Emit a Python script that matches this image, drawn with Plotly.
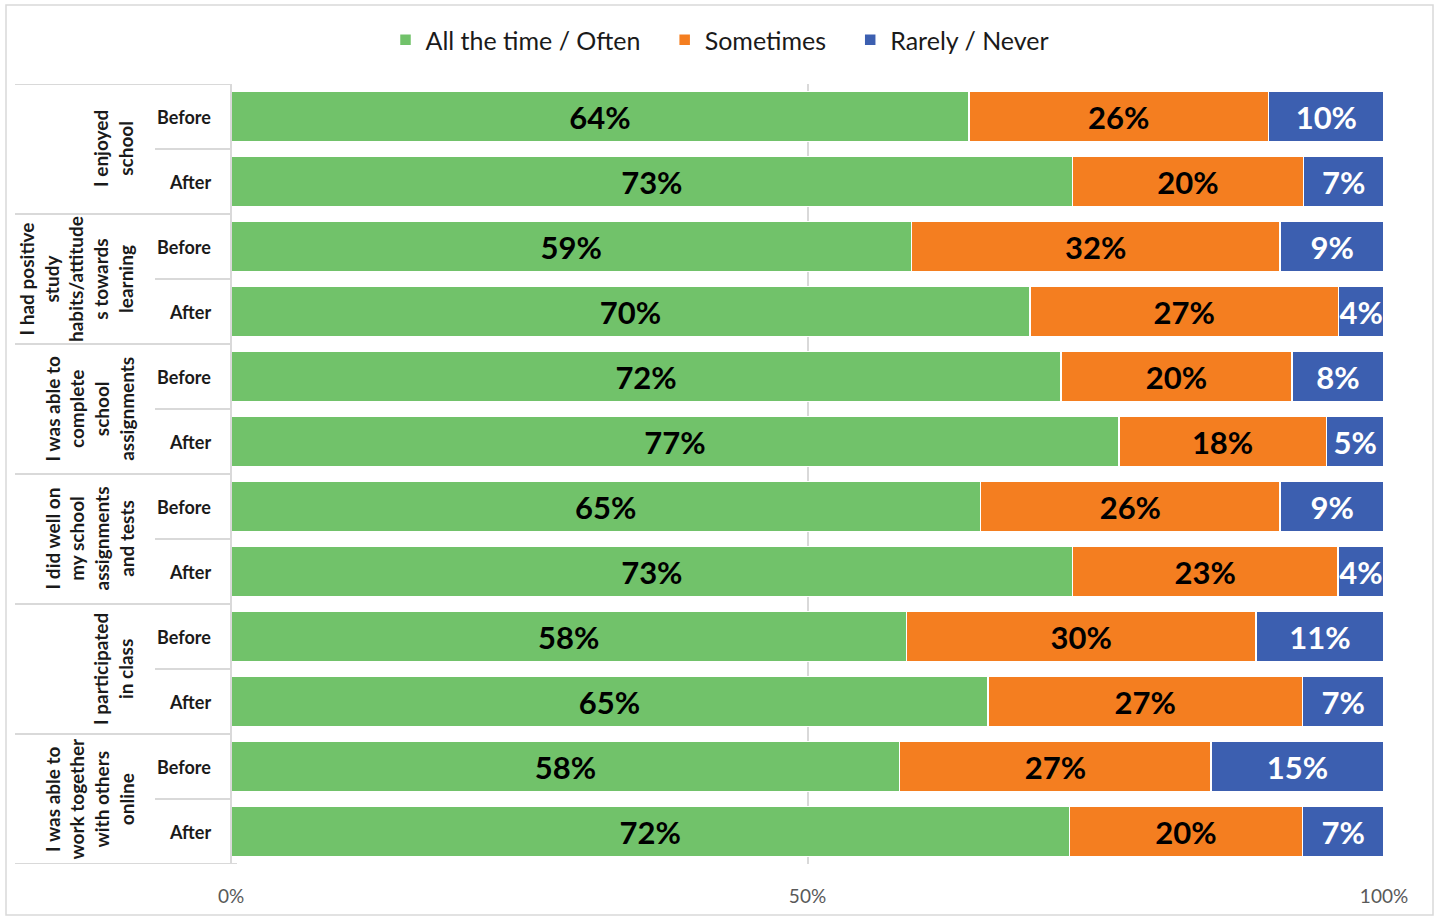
import plotly.graph_objects as go

# Survey items (outer category) and periods (inner category)
statements = [
    "I enjoyed<br>school",
    "I had positive<br>study<br>habits/attitude<br>s towards<br>learning",
    "I was able to<br>complete<br>school<br>assignments",
    "I did well on<br>my school<br>assignments<br>and tests",
    "I participated<br>in class",
    "I was able to<br>work together<br>with others<br>online",
]
periods = ["Before", "After"]

# Percent of respondents per answer, rows ordered item by item, Before then After
often = [64, 73, 59, 70, 72, 77, 65, 73, 58, 65, 58, 72]
sometimes = [26, 20, 32, 27, 20, 18, 26, 23, 30, 27, 27, 20]
rarely = [10, 7, 9, 4, 8, 5, 9, 4, 11, 7, 15, 7]

x_ticks = [0, 50, 100]
x_tick_labels = ["0%", "50%", "100%"]

W, H = 1437, 917
L, R, T, B = 231, 53, 84, 53
PW = W - L - R

def px_to_paper_x(px):
    return (px - L) / PW

FONT = "Lato, 'Open Sans', sans-serif"
rows = list(range(len(often)))
PAD = "\u00a0" * 3  # extra room between legend entries

series = [
    ("All the time / Often" + PAD, often, "#71C26A", "#000000"),
    ("Sometimes" + PAD, sometimes, "#F47E20", "#000000"),
    ("Rarely / Never", rarely, "#3C5FB0", "#FFFFFF"),
]

fig = go.Figure()
for name, vals, color, tcolor in series:
    fig.add_trace(go.Bar(
        name=name,
        y=rows,
        x=vals,
        orientation="h",
        width=0.77,
        marker=dict(color=color, line=dict(color="#FFFFFF", width=1.5)),
        text=[f"{v}%" for v in vals],
        textposition="inside",
        insidetextanchor="middle",
        textangle=0,
        constraintext="none",
        textfont=dict(family=FONT, size=31, color=tcolor, weight="bold"),
        hoverinfo="skip",
    ))

annotations = []
shapes = []
line_col = "#D9D9D9"

# Inner labels (Before / After)
for i in rows:
    annotations.append(dict(
        x=px_to_paper_x(213), xref="paper", y=i, yref="y",
        text=periods[i % 2], showarrow=False, xanchor="right", yanchor="middle",
        font=dict(family=FONT, size=18, color="#1a1a1a", weight="bold"),
    ))

# Outer labels, rotated, and group separators
for g, s in enumerate(statements):
    annotations.append(dict(
        x=px_to_paper_x(139), xref="paper", y=2 * g + 0.5, yref="y",
        text=s, showarrow=False, textangle=-90, xanchor="right", yanchor="middle",
        align="center",
        font=dict(family=FONT, size=19, color="#1a1a1a", weight="bold"),
    ))
    shapes.append(dict(type="line", xref="paper", yref="y",
                       x0=px_to_paper_x(155), x1=0, y0=2 * g + 0.5, y1=2 * g + 0.5,
                       line=dict(color=line_col, width=2)))
for b in range(0, 7):
    yb = 2 * b - 0.5
    shapes.append(dict(type="line", xref="paper", yref="y",
                       x0=px_to_paper_x(15), x1=0 if b < 6 else px_to_paper_x(237),
                       y0=yb, y1=yb, line=dict(color=line_col, width=2)))

# Left axis line
shapes.append(dict(type="line", xref="paper", yref="y", x0=0, x1=0,
                   y0=-0.5, y1=11.5, line=dict(color=line_col, width=2)))

# Outer chart border
shapes.append(dict(type="rect", xref="paper", yref="paper",
                   x0=px_to_paper_x(6), x1=px_to_paper_x(1433),
                   y0=-(915 - (H - B)) / (H - T - B), y1=1 + (T - 5) / (H - T - B),
                   line=dict(color=line_col, width=1.5), fillcolor="rgba(0,0,0,0)", layer="below"))

fig.update_layout(
    width=W, height=H,
    margin=dict(l=L, r=R, t=T, b=B, pad=0, autoexpand=False),
    barmode="stack",
    barnorm="percent",
    plot_bgcolor="#FFFFFF",
    paper_bgcolor="#FFFFFF",
    font=dict(family=FONT),
    showlegend=True,
    legend=dict(
        orientation="h", x=px_to_paper_x(720), xanchor="center",
        y=1 + (T - 40) / (H - T - B), yanchor="middle",
        font=dict(family=FONT, size=25, color="#1a1a1a"),
        itemwidth=30, traceorder="normal", itemclick=False,
    ),
    xaxis=dict(
        range=[0, 100], tickvals=x_ticks, ticktext=x_tick_labels,
        showgrid=True, gridcolor=line_col, gridwidth=1.5,
        zeroline=False, showline=False, automargin=False,
        ticks="outside", ticklen=15, tickcolor="rgba(0,0,0,0)",
        tickfont=dict(family=FONT, size=19, color="#595959"),
        fixedrange=True,
    ),
    yaxis=dict(
        range=[11.5, -0.5], showticklabels=False, showgrid=False,
        zeroline=False, showline=False, fixedrange=True, automargin=False,
    ),
    annotations=annotations,
    shapes=shapes,
)

fig.write_html("out.html")
